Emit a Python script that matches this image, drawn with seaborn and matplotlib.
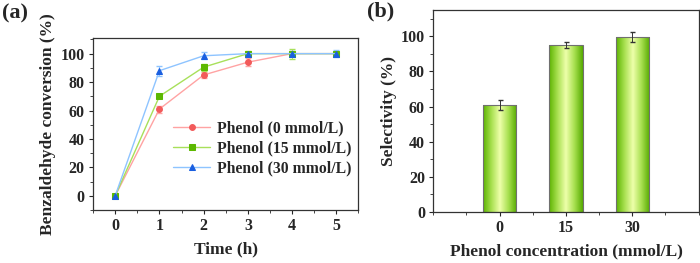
import numpy as np
import pandas as pd
import matplotlib
matplotlib.use('Agg')
import matplotlib.pyplot as plt
from matplotlib.colors import LinearSegmentedColormap
from matplotlib.ticker import MultipleLocator, AutoMinorLocator
import seaborn as sns

########## Datos ##########

tiempo = [0, 1, 2, 3, 4, 5]
conv_0 = [0, 61, 85, 94, 100, 100]
conv_15 = [0, 70, 90.5, 100, 100, 100]
conv_30 = [0, 88, 98.5, 100, 100, 100]
err_0 = [1, 2.5, 2, 3, 2, 1.5]
err_15 = [1, 1.5, 2.5, 2, 3.5, 1.5]
err_30 = [1, 3.5, 2.5, 1.5, 2, 2.5]
series = ['Phenol (0 mmol/L)', 'Phenol (15 mmol/L)', 'Phenol (30 mmol/L)']

concentracion = ['0', '15', '30']
selectividad = [61, 95, 99.5]
err_sel = [3, 1.5, 3]

########## Estilo ##########

sns.set_style('ticks')
plt.rcParams['font.family'] = ['Liberation Serif', 'DejaVu Serif']
plt.rcParams['font.weight'] = 'bold'
plt.rcParams['axes.labelweight'] = 'bold'
plt.rcParams['axes.linewidth'] = 0.9
plt.rcParams['axes.edgecolor'] = '#333333'
plt.rcParams['xtick.direction'] = 'out'
plt.rcParams['ytick.direction'] = 'out'

fig = plt.figure(figsize=(7, 2.63), dpi=100)
ax1 = fig.add_axes([0.133, 0.2015, 0.379, 0.654])
ax2 = fig.add_axes([0.619, 0.194, 0.379, 0.768])

########## (a) Conversion ##########

df = pd.DataFrame({
    'Time': tiempo * 3,
    'Conv': conv_0 + conv_15 + conv_30,
    'Serie': [series[0]] * 6 + [series[1]] * 6 + [series[2]] * 6,
})
colores_linea = ['#ffa3a3', '#a8e05a', '#8ec4ff']
colores_marca = ['#f25a5a', '#5cb800', '#1a5fe0']
marcas = ['o', 's', '^']
errores = [err_0, err_15, err_30]

for i, s in enumerate(series):
    d = df[df['Serie'] == s]
    ax1.errorbar(d['Time'], d['Conv'], yerr=errores[i], fmt='none',
                 ecolor=colores_linea[i], elinewidth=0.8, capsize=2, zorder=2)
    sns.lineplot(data=d, x='Time', y='Conv', ax=ax1, color=colores_linea[i],
                 lw=1.0, marker=marcas[i], markersize=4.2, markerfacecolor=colores_marca[i],
                 markeredgecolor=colores_marca[i], label=s, zorder=3)

ax1.set_xlim(-0.5, 5.5)
ax1.set_ylim(-10, 111)
ax1.xaxis.set_major_locator(MultipleLocator(1))
ax1.xaxis.set_minor_locator(AutoMinorLocator(2))
ax1.yaxis.set_major_locator(MultipleLocator(20))
ax1.yaxis.set_minor_locator(AutoMinorLocator(2))
ax1.tick_params(which='major', length=3, labelsize=11.5, pad=3)
ax1.tick_params(which='minor', length=2)
ax1.set_xlabel('Time (h)', fontsize=12.5, labelpad=5)
ax1.set_ylabel('Benzaldehyde conversion (%)', fontsize=12.5, labelpad=3)
ax1.legend(frameon=False, loc='upper left', bbox_to_anchor=(0.30, 0.52),
           borderaxespad=0, borderpad=0,
           prop={'weight': 'bold', 'size': 11.3}, handlelength=2.4,
           handletextpad=0.4, labelspacing=0.25)

########## (b) Selectividad ##########

df_sel = pd.DataFrame({'Conc': concentracion, 'Sel': selectividad})
sns.barplot(data=df_sel, x='Conc', y='Sel', ax=ax2, width=0.5,
            color='#8fd630', edgecolor='#707070', linewidth=0.8, errorbar=None)
ax2.errorbar(range(len(concentracion)), selectividad, yerr=err_sel, fmt='none',
             ecolor='#333333', elinewidth=0.7, capsize=1.8, zorder=5)

# degradado horizontal dentro de cada barra
cmap = LinearSegmentedColormap.from_list('verde', ['#5bb300', '#a8e050', '#eeffaa', '#a8e050', '#55aa00'])
grad = np.linspace(0, 1, 256).reshape(1, -1)
for p in ax2.patches:
    x0, y0 = p.get_x(), p.get_y()
    w, h = p.get_width(), p.get_height()
    im = ax2.imshow(grad, extent=[x0, x0 + w, y0, y0 + h], aspect='auto',
                    cmap=cmap, zorder=p.get_zorder() + 0.1)
    im.set_clip_path(p)
    p.set_facecolor('none')
    p.set_zorder(p.get_zorder() + 0.2)

ax2.set_xlim(-1, 3)
ax2.set_ylim(0, 115)
ax2.xaxis.set_minor_locator(MultipleLocator(0.5))
ax2.yaxis.set_major_locator(MultipleLocator(20))
ax2.yaxis.set_minor_locator(AutoMinorLocator(2))
ax2.tick_params(which='major', length=3, labelsize=11.5, pad=3)
ax2.tick_params(which='minor', length=2)
ax2.set_xlabel('Phenol concentration (mmol/L)', fontsize=12.5, labelpad=5)
ax2.set_ylabel('Selectivity (%)', fontsize=12.5, labelpad=3)

fig.text(0.003, 0.985, '(a)', fontsize=16, fontweight='bold', va='top')
fig.text(0.524, 0.995, '(b)', fontsize=16, fontweight='bold', va='top')

fig.savefig('out.png', dpi=100)
